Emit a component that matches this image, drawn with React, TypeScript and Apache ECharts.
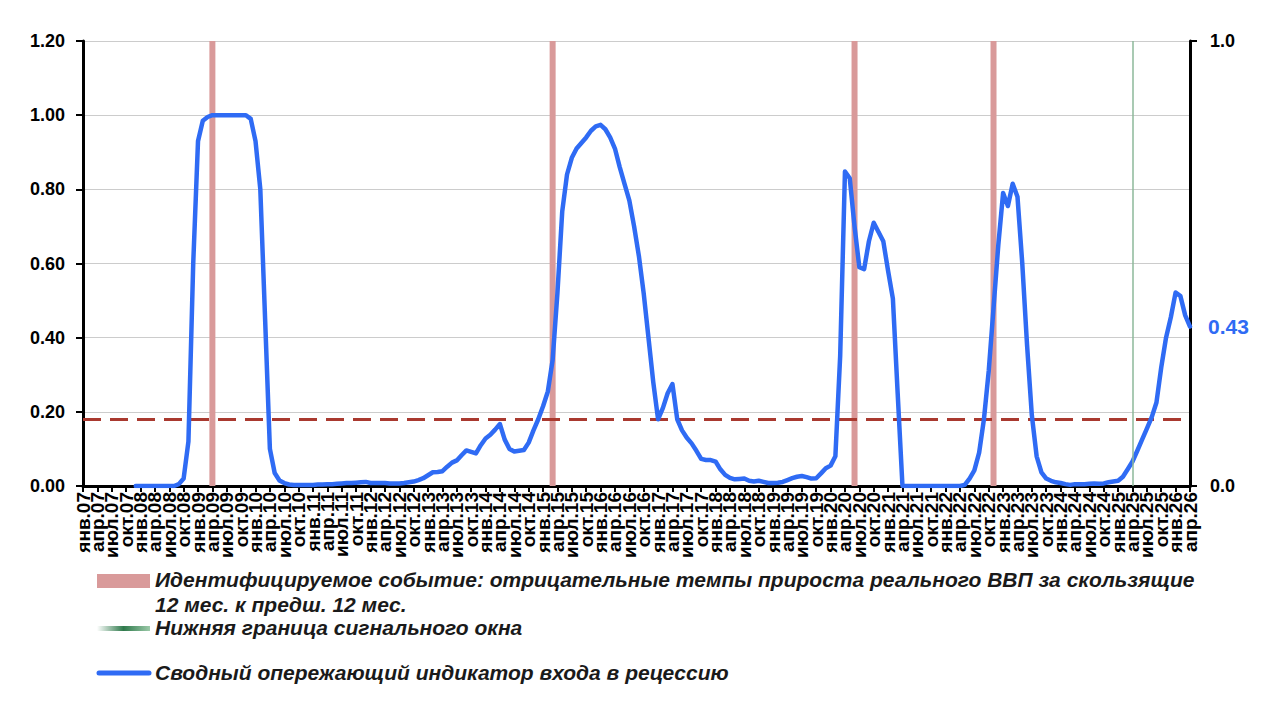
import React, { useEffect, useRef } from "react";
import * as echarts from "echarts";

const monthNames = ["янв.", "фев.", "мар.", "апр.", "май", "июн.", "июл.", "авг.", "сен.", "окт.", "ноя.", "дек."];
const firstYear = 7; // 2007
const monthCount = 232; // янв.07 … апр.26
const categories: string[] = Array.from({ length: monthCount }, (_, i) =>
  monthNames[i % 12] + String(firstYear + Math.floor(i / 12)).padStart(2, "0")
);

// Сводный опережающий индикатор входа в рецессию (monthly)
const indicator: (number | null)[] = [
  // 2007
  null, null, null, null, null, null, null, null, null, null, null, 0,
  // 2008
  0, 0, 0, 0, 0, 0, 0, 0, 0.005, 0.02, 0.12, 0.6,
  // 2009
  0.93, 0.985, 0.995, 1, 1, 1, 1, 1, 1, 1, 1, 0.99,
  // 2010
  0.93, 0.8, 0.45, 0.1, 0.035, 0.015, 0.008, 0.004, 0.003, 0.003, 0.003, 0.003,
  // 2011
  0.003, 0.004, 0.004, 0.005, 0.005, 0.006, 0.007, 0.008, 0.008, 0.009, 0.01, 0.011,
  // 2012
  0.008, 0.008, 0.008, 0.008, 0.007, 0.007, 0.007, 0.008, 0.01, 0.012, 0.016, 0.021,
  // 2013
  0.029, 0.037, 0.038, 0.04, 0.052, 0.063, 0.069, 0.083, 0.096, 0.092, 0.088, 0.11,
  // 2014
  0.128, 0.138, 0.152, 0.167, 0.125, 0.1, 0.093, 0.095, 0.097, 0.117, 0.15, 0.18,
  // 2015
  0.215, 0.255, 0.34, 0.52, 0.74, 0.84, 0.885, 0.91, 0.925, 0.94, 0.958, 0.97,
  // 2016
  0.974, 0.962, 0.94, 0.91, 0.86, 0.815, 0.77, 0.7, 0.62, 0.52, 0.4, 0.28,
  // 2017
  0.18, 0.21, 0.25, 0.275, 0.18, 0.15, 0.13, 0.115, 0.095, 0.073, 0.07, 0.07,
  // 2018
  0.066, 0.045, 0.03, 0.022, 0.018, 0.019, 0.02, 0.014, 0.012, 0.014, 0.011, 0.008,
  // 2019
  0.008, 0.009, 0.011, 0.016, 0.021, 0.025, 0.027, 0.024, 0.02, 0.021, 0.034, 0.048,
  // 2020
  0.055, 0.08, 0.35, 0.848, 0.83, 0.7, 0.59, 0.585, 0.66, 0.71, 0.685, 0.66,
  // 2021
  0.58, 0.505, 0.25, 0, 0, 0, 0, 0, 0, 0, 0, 0,
  // 2022
  0, 0, 0, 0, 0.003, 0.02, 0.042, 0.09, 0.18, 0.31, 0.48, 0.65,
  // 2023
  0.79, 0.755, 0.815, 0.78, 0.6, 0.38, 0.19, 0.08, 0.037, 0.02, 0.014, 0.01,
  // 2024
  0.008, 0.005, 0.003, 0.005, 0.005, 0.005, 0.006, 0.007, 0.006, 0.007, 0.01, 0.012,
  // 2025
  0.014, 0.025, 0.045, 0.066, 0.095, 0.125, 0.155, 0.185, 0.225, 0.32, 0.4, 0.455,
  // 2026
  0.522, 0.512, 0.46, 0.43,
];

// Идентифицируемое событие (months)
const eventMonths = ["апр.09", "мар.15", "июн.20", "ноя.22"];
const eventData = categories.map((c) => (eventMonths.includes(c) ? 1 : null));
// Нижняя граница сигнального окна
const signalWindowStart = "апр.25";
// Порог
const threshold = 0.18;

const legendTexts = [
  "Идентифицируемое событие: отрицательные темпы прироста реального ВВП за скользящие",
  "12 мес. к предш. 12 мес.",
  "Нижняя граница сигнального окна",
  "Сводный опережающий индикатор входа в рецессию",
];

const FONT = '"Liberation Sans", Arial, Helvetica, sans-serif';
const BLUE = "#2f6bf4";
const PINK = "#d99a9a";
const GREEN = "#8db89a";
const DASH = "#a9392f";

export default function App() {
  const ref = useRef<HTMLDivElement>(null);
  useEffect(() => {
    if (!ref.current) return;
    const chart = echarts.init(ref.current, undefined, { renderer: "svg" });
    const quarterly = (i: number) => i % 3 === 0;
    const legendText = (y: number, text: string) => ({
      type: "text",
      left: 155,
      top: y - 12,
      style: {
        text,
        fill: "#1a1a1a",
        font: `italic bold 21px ${FONT}`,
      },
    });
    chart.setOption({
      animation: false,
      backgroundColor: "#ffffff",
      textStyle: { fontFamily: FONT },
      grid: { left: 83, right: 90, top: 41, bottom: 219, containLabel: false },
      xAxis: {
        type: "category",
        data: categories,
        boundaryGap: false,
        axisLine: { show: true, lineStyle: { color: "#000", width: 3 } },
        axisTick: { show: true, interval: quarterly, length: 6, lineStyle: { color: "#000", width: 2 } },
        axisLabel: {
          interval: 0,
          hideOverlap: false,
          formatter: (v: string, i: number) => (quarterly(i) ? v : ""),
          rotate: 90,
          margin: 6,
          color: "#000",
          fontWeight: "bold",
          fontSize: 19,
          fontFamily: FONT,
        },
        splitLine: { show: false },
      },
      yAxis: [
        {
          type: "value",
          min: 0,
          max: 1.2,
          interval: 0.2,
          axisLine: { show: true, lineStyle: { color: "#000", width: 3 } },
          axisTick: { show: true, length: 7, lineStyle: { color: "#000", width: 2 } },
          axisLabel: {
            formatter: (v: number) => v.toFixed(2),
            color: "#000",
            fontWeight: "bold",
            fontSize: 18,
            margin: 18,
            fontFamily: FONT,
          },
          splitLine: { show: true, lineStyle: { color: "#cccccc", width: 1 } },
        },
        {
          type: "value",
          min: 0,
          max: 1,
          interval: 1,
          position: "right",
          axisLine: { show: true, lineStyle: { color: "#000", width: 3 } },
          axisTick: { show: true, length: 7, lineStyle: { color: "#000", width: 2 } },
          axisLabel: {
            formatter: (v: number) => v.toFixed(1),
            color: "#000",
            fontWeight: "bold",
            fontSize: 18,
            margin: 20,
            fontFamily: FONT,
          },
          splitLine: { show: false },
        },
      ],
      series: [
        {
          name: "Идентифицируемое событие",
          type: "bar",
          yAxisIndex: 1,
          data: eventData,
          barWidth: 6,
          itemStyle: { color: PINK },
          z: 1,
          markLine: {
            silent: true,
            symbol: "none",
            label: { show: false },
            lineStyle: { color: GREEN, width: 1.5, type: "solid" },
            data: [{ xAxis: signalWindowStart }],
          },
        },
        {
          name: "Сводный опережающий индикатор входа в рецессию",
          type: "line",
          yAxisIndex: 0,
          data: indicator,
          showSymbol: false,
          symbol: "none",
          lineStyle: { color: BLUE, width: 4.5, join: "round", cap: "round" },
          itemStyle: { color: BLUE },
          z: 4,
          endLabel: {
            show: true,
            formatter: (p: any) => Number(p.value).toFixed(2),
            color: BLUE,
            fontWeight: "bold",
            fontSize: 21,
            distance: 18,
            fontFamily: FONT,
          },
          markLine: {
            silent: true,
            symbol: "none",
            label: { show: false },
            lineStyle: { color: DASH, width: 3, type: [18, 9] },
            data: [{ yAxis: threshold }],
            z: 3,
          },
        },
      ],
      graphic: [
        { type: "rect", shape: { x: 97, y: 574, width: 53, height: 14 }, style: { fill: PINK } },
        legendText(581, legendTexts[0]),
        legendText(606, legendTexts[1]),
        {
          type: "rect",
          shape: { x: 97, y: 626, width: 53, height: 5 },
          style: {
            fill: new echarts.graphic.LinearGradient(0, 0, 1, 0, [
              { offset: 0, color: "#ffffff" },
              { offset: 0.5, color: "#2f7a4c" },
              { offset: 1, color: "#9ccaa9" },
            ]),
          },
        },
        legendText(629, legendTexts[2]),
        {
          type: "line",
          shape: { x1: 99, y1: 673, x2: 149, y2: 673 },
          style: { stroke: BLUE, lineWidth: 5, lineCap: "round" },
        },
        legendText(674, legendTexts[3]),
      ],
    });
    return () => chart.dispose();
  }, []);
  return (
    <div
      ref={ref}
      style={{ position: "absolute", left: 0, top: 0, width: 1280, height: 705, background: "#fff" }}
    />
  );
}
